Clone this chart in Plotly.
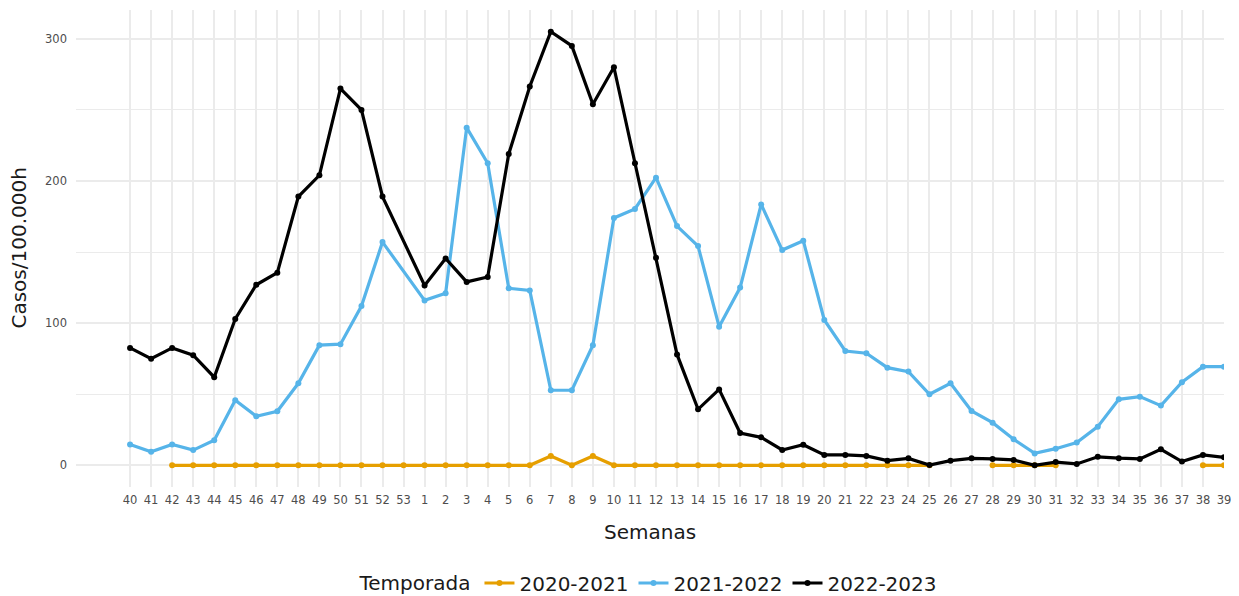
import plotly.graph_objects as go

# ── Data ──────────────────────────────────────────────────────────────────────
WEEKS = [str(w) for w in list(range(40, 54)) + list(range(1, 40))]

S2020 = ([None, None] + [0] * 12            # 40-53
         + [0, 0, 0, 0, 0, 0, 6.5, 0, 6.5]   # 1-9
         + [0] * 16                          # 10-25
         + [None, None, 0, 0, 0, 0]          # 26-31
         + [None] * 6 + [0, 0])              # 32-39

S2021 = [14.7, 9.5, 14.7, 10.7, 17.6, 45.8, 34.5, 38.0, 57.7, 84.5, 85.2, 112.0, 157.0, None,
         116.0, 121.0, 237.5, 212.5, 124.5, 123.0, 52.8, 52.8, 84.5, 174.0, 180.3, 202.3,
         168.3, 154.2, 97.5, 125.0, 183.5, 151.4, 158.0, 102.2, 80.4, 78.8, 68.7, 65.9,
         50.0, 57.7, 38.2, 30.0, 18.3, 8.4, 11.7, 16.0, 27.2, 46.4, 48.3, 42.0, 58.4, 69.4, 69.4]

S2022 = [82.6, 75.0, 82.6, 77.5, 62.0, 103.0, 127.0, 135.5, 189.0, 204.0, 265.0, 250.0, 189.0, None,
         126.5, 145.5, 129.0, 132.5, 219.0, 266.5, 305.0, 295.0, 254.0, 280.0, 212.5, 146.0,
         78.0, 39.4, 53.4, 22.7, 19.7, 10.8, 14.5, 7.3, 7.3, 6.6, 3.3, 4.9,
         0.2, 3.3, 4.9, 4.5, 3.8, 0.0, 2.3, 1.0, 6.0, 5.0, 4.5, 11.3, 2.6, 7.3, 5.6]

SERIES = [
    ("2020-2021", S2020, "#E69F00", False),
    ("2021-2022", S2021, "#56B4E9", True),
    ("2022-2023", S2022, "#000000", True),
]

GRID = "#EBEBEB"
FONT = "DejaVu Sans"

fig = go.Figure()
for name, vals, color, connect in SERIES:
    fig.add_trace(go.Scatter(
        x=WEEKS, y=vals, name=name, mode="lines+markers",
        line=dict(color=color, width=3.2),
        marker=dict(color=color, size=6),
        connectgaps=connect,
    ))

# page has an 8px body margin, so the figure is shifted left/up to compensate
fig.update_layout(
    width=1231, height=596,
    paper_bgcolor="white", plot_bgcolor="white",
    font=dict(family=FONT, color="#1a1a1a", size=20),
    margin=dict(l=68, r=15, t=2, b=117, autoexpand=False),
    showlegend=True,
    legend=dict(
        orientation="h", x=0.5, xanchor="center", y=-0.2013, yanchor="middle",
        title=dict(text="Temporada", side="left", font=dict(size=20)),
        font=dict(size=20), itemwidth=30, tracegroupgap=0,
    ),
    annotations=[
        dict(text="Semanas", xref="paper", yref="paper", x=0.5, y=-0.094,
             xanchor="center", yanchor="middle", showarrow=False, font=dict(size=20)),
        dict(text="Casos/100.000h", xref="paper", yref="paper", x=-0.0505, y=0.5,
             xanchor="center", yanchor="middle", textangle=-90, showarrow=False,
             font=dict(size=20)),
    ],
)

fig.update_xaxes(
    type="category", categoryorder="array", categoryarray=WEEKS,
    range=[-2.57, 52.0],
    showgrid=True, gridcolor=GRID, gridwidth=1.6, zeroline=False, showline=False,
    ticks="", ticklabelstandoff=4, tickfont=dict(size=11.5, color="#4D4D4D"),
)
fig.update_yaxes(
    range=[-15.25, 320.25], tickvals=[0, 100, 200, 300],
    showgrid=True, gridcolor=GRID, gridwidth=1.6, zeroline=False, showline=False,
    minor=dict(tickvals=[50, 150, 250], showgrid=True, gridcolor=GRID, gridwidth=1.2),
    ticks="", ticklabelstandoff=8, tickfont=dict(size=11.5, color="#4D4D4D"),
)

fig.write_html("out.html")
